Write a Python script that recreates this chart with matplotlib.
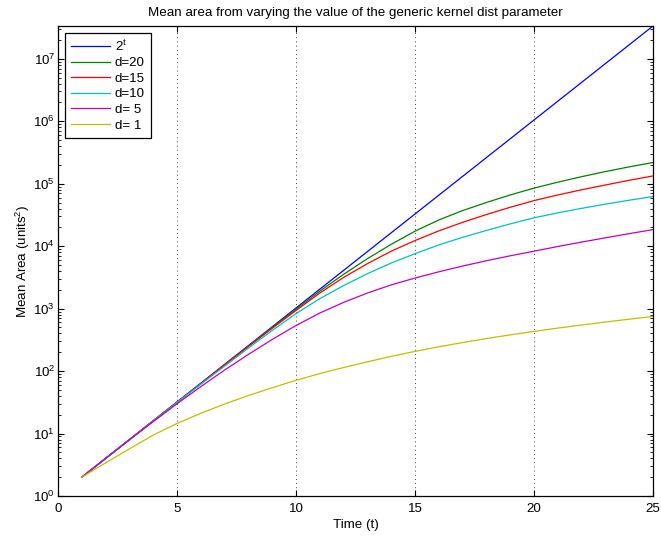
import numpy as np
import matplotlib
matplotlib.use('Agg')
import matplotlib.pyplot as plt

plt.rcParams['font.family'] = ['Liberation Sans', 'DejaVu Sans']
plt.rcParams['mathtext.default'] = 'regular'

# time steps
t = [1, 2, 3, 4, 5, 6, 7, 8, 9, 10, 11, 12, 13, 14, 15, 16, 17, 18, 19, 20, 21, 22, 23, 24, 25]

# mean area
area_pow2 = [2, 4, 8, 16, 32, 64, 128, 256, 512, 1024, 2048, 4096, 8192, 16384, 32768,
             65536, 131072, 262144, 524288, 1048576, 2097152, 4194304, 8388608,
             16777216, 33554432]
area_d20 = [2, 4.0, 8.0, 16.0, 31.8, 63.1, 126, 251, 501, 977, 1905, 3548, 6310, 10715,
            17378, 26303, 37154, 50119, 66069, 85114, 105925, 129718, 156675, 186209, 218776]
area_d15 = [2, 4.0, 8.0, 16.0, 31.8, 63.1, 126, 248, 484, 933, 1778, 3162, 5248, 8318,
            12303, 17579, 24099, 32137, 41976, 53703, 66069, 79983, 95499, 113501, 133352]
area_d10 = [2, 4.0, 8.0, 15.8, 31.4, 61.7, 120, 234, 447, 832, 1445, 2344, 3631, 5370,
            7586, 10471, 13868, 17865, 22751, 28445, 34198, 40365, 47098, 54450, 62373]
area_d5 = [2, 3.99, 7.91, 15.5, 29.9, 56.4, 104, 185, 321, 537, 851, 1259, 1778, 2399,
           3090, 3890, 4808, 5848, 7015, 8318, 9886, 11641, 13614, 15888, 18408]
area_d1 = [2, 3.39, 5.69, 9.44, 14.5, 21.1, 29.7, 40.6, 54.1, 71.3, 91.2, 114, 141, 172,
           207, 245, 286, 332, 380, 432, 488, 547, 610, 678, 750]

labels = ['$2^t$', 'd=20', 'd=15', 'd=10', 'd= 5', 'd= 1']
colors = [(0, 0, 1), (0, 0.5, 0), (1, 0, 0), (0, 0.75, 0.75), (0.75, 0, 0.75), (0.75, 0.75, 0)]
series = [area_pow2, area_d20, area_d15, area_d10, area_d5, area_d1]

fs = 9.6

fig = plt.figure(figsize=(6.61, 5.36), dpi=100)
ax = fig.add_axes([58 / 661, 40 / 536, 595 / 661, 470 / 536])

for y, c, lab in zip(series, colors, labels):
    ax.semilogy(t, y, color=c, linewidth=0.9, label=lab)

ax.set_xlim(0, 25)
ax.set_ylim(1, 2**25)
ax.set_xticks([0, 5, 10, 15, 20, 25])
ax.xaxis.grid(True, linestyle=(0, (1, 4)), color='black', linewidth=0.6)
ax.tick_params(which='both', direction='in', top=True, right=True, labelsize=fs)
ax.tick_params(which='major', length=4.5)
ax.tick_params(which='minor', length=2.2)
ax.tick_params(axis='x', pad=5)
ax.tick_params(axis='y', pad=2)
for s in ax.spines.values():
    s.set_linewidth(0.9)

ax.set_title('Mean area from varying the value of the generic kernel dist parameter',
             fontsize=fs, pad=7)
ax.set_xlabel('Time (t)', fontsize=fs, labelpad=3)
ax.set_ylabel('Mean Area (units$^2$)', fontsize=fs, labelpad=1)

leg = ax.legend(loc='upper left', fontsize=fs, handlelength=2.95, handletextpad=0.35,
                fancybox=False, framealpha=1, edgecolor='black', borderaxespad=0.5,
                borderpad=0.45, labelspacing=0.24)
leg.get_frame().set_linewidth(0.9)

fig.savefig('out.png', dpi=100)
